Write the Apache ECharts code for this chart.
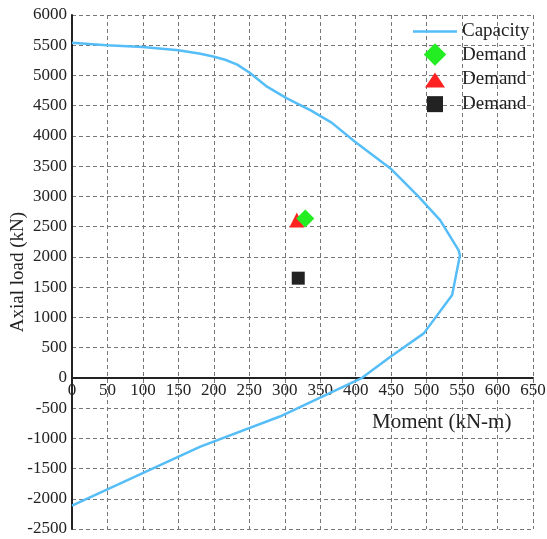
<!DOCTYPE html>
<html><head><meta charset="utf-8">
<script src="https://cdn.jsdelivr.net/npm/echarts@6/dist/echarts.min.js"></script>
<style>html,body{margin:0;padding:0;background:#fff}#c{width:547px;height:539px}</style>
</head><body><div id="c"></div>
<script>
// Capacity (interaction) curve
const capacityMoment = [0, 49, 100, 150, 181, 199, 216, 233, 251, 275, 303, 336, 366, 399, 449, 489, 519, 545, 547, 536, 496, 449, 409, 293, 181, 0];
const capacityAxial  = [5540, 5500, 5470, 5418, 5360, 5315, 5260, 5180, 5040, 4815, 4620, 4426, 4220, 3903, 3463, 2993, 2608, 2112, 2026, 1369, 735, 349, 0, -640, -1139, -2114];
// Demand points
const demandDiamond  = [[329, 2636]];
const demandTriangle = [[317, 2610]];
const demandSquare   = [[319, 1648]];
// Axis labels / ticks
const xAxisName = 'Moment (kN-m)';
const yAxisName = 'Axial load (kN)';
const xMin = 0, xMax = 650, xStep = 50;
const yMin = -2500, yMax = 6000, yStep = 500;

const FONT = 'Liberation Serif';
const capacityData = capacityMoment.map((m, i) => [m, capacityAxial[i]]);

const W = 547, H = 539;
const gridL = 72, gridR = 14, gridT = 15, gridB = 10;
const plotH = H - gridT - gridB;
// distance from bottom of the plot to the y=0 line, from the axis range
const zeroOffset = plotH * (0 - yMin) / (yMax - yMin);

const chart = echarts.init(document.getElementById('c'), null, {renderer: 'canvas'});
const dashed = {show: true, lineStyle: {color: '#777', width: 1, type: [4, 3]}};
chart.setOption({
  backgroundColor: '#fff',
  animation: false,
  textStyle: {fontFamily: FONT},
  grid: {left: gridL, right: gridR, top: gridT, bottom: gridB, containLabel: false, outerBoundsMode: 'none'},
  xAxis: {
    type: 'value', min: xMin, max: xMax, interval: xStep, position: 'bottom', offset: -zeroOffset,
    axisLine: {show: true, onZero: false, lineStyle: {color: '#222', width: 2}},
    axisTick: {show: false},
    axisLabel: {color: '#222', fontSize: 17, fontFamily: FONT, margin: 4, showMinLabel: true, showMaxLabel: true,
                formatter: v => String(v)},
    splitLine: dashed
  },
  yAxis: {
    type: 'value', min: yMin, max: yMax, interval: yStep,
    name: yAxisName, nameLocation: 'middle', nameGap: 44, nameMoveOverlap: false,
    nameTextStyle: {color: '#222', fontSize: 19, fontFamily: FONT},
    axisLine: {show: true, onZero: false, lineStyle: {color: '#222', width: 2}},
    axisTick: {show: false},
    axisLabel: {color: '#222', fontSize: 17, fontFamily: FONT, margin: 5, showMinLabel: true, showMaxLabel: true,
                formatter: v => String(v)},
    splitLine: dashed
  },
  legend: {
    orient: 'vertical', left: 413, top: 22, padding: 0,
    itemWidth: 44, itemHeight: 22.5, itemGap: 2.3, itemTextGap: 5,
    symbolKeepAspect: true,
    textStyle: {color: '#222', fontSize: 19, fontFamily: FONT},
    formatter: n => n.indexOf('Demand') === 0 ? 'Demand' : n,
    data: [
      {name: 'Capacity', icon: 'path://M0,0 L44,0 L44,2.5 L0,2.5 Z'},
      {name: 'Demand1', icon: 'path://M9,0 L18,9 L9,18 L0,9 Z'},
      {name: 'Demand2', icon: 'path://M0,0 M18,18 M9,3.5 L17,15.5 L1,15.5 Z'},
      {name: 'Demand3', icon: 'path://M0,0 M18,18 M2.6,2.6 L15.4,2.6 L15.4,15.4 L2.6,15.4 Z'}
    ]
  },
  graphic: [{
    type: 'text', left: 372, top: 412,
    style: {text: xAxisName, fill: '#222', font: '21px "Liberation Serif"'}
  }],
  series: [
    {name: 'Capacity', type: 'line', data: capacityData, symbol: 'none', smooth: false,
     lineStyle: {color: '#55BDF7', width: 2.5}, itemStyle: {color: '#55BDF7'}},
    {name: 'Demand1', type: 'scatter', data: demandDiamond, symbol: 'diamond', symbolSize: 18, z: 4,
     itemStyle: {color: '#22EE22', opacity: 1}},
    {name: 'Demand2', type: 'scatter', data: demandTriangle, symbol: 'triangle', symbolSize: 15, z: 3,
     itemStyle: {color: '#FF2222', opacity: 1}},
    {name: 'Demand3', type: 'scatter', data: demandSquare, symbol: 'rect', symbolSize: 13, z: 3,
     itemStyle: {color: '#222222', opacity: 1}}
  ]
});
</script>
</body></html>
